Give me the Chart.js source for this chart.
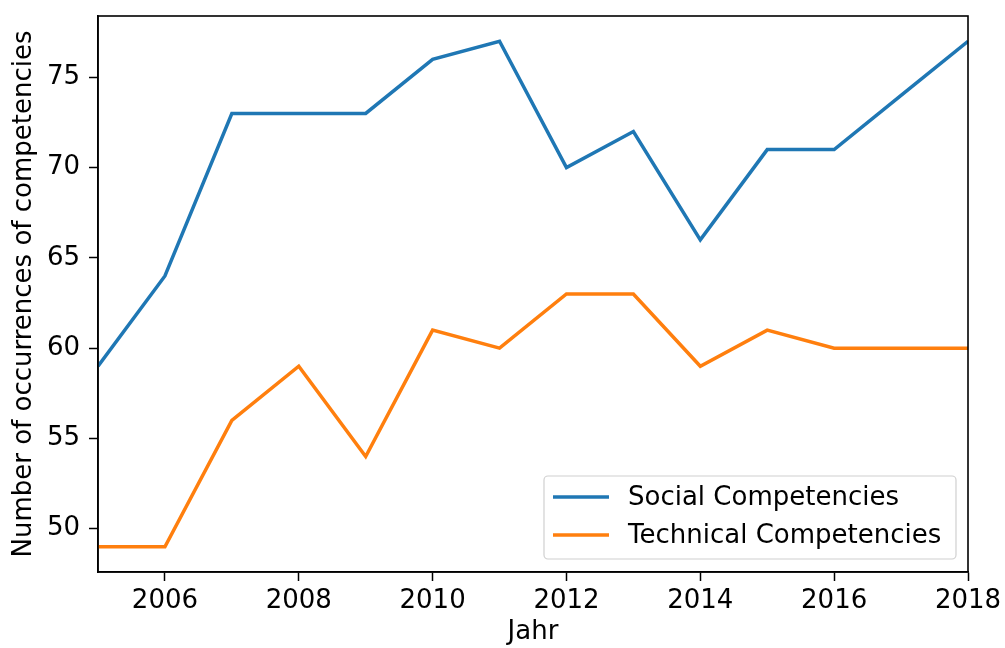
<!DOCTYPE html>
<html>
<head>
<meta charset="utf-8">
<script src="https://cdn.jsdelivr.net/npm/chart.js@4/dist/chart.umd.min.js"></script>
<style>
  html, body { margin: 0; padding: 0; background: #fff; }
  #wrap { width: 1005px; height: 648px; }
</style>
</head>
<body>
<div id="wrap"><canvas id="chart"></canvas></div>
<script>
// Jahre und Werte
const years = [2005, 2006, 2007, 2008, 2009, 2010, 2011, 2012, 2013, 2014, 2015, 2016, 2017, 2018];
const socialValues = [59, 64, 73, 73, 73, 76, 77, 70, 72, 66, 71, 71, 74, 77];
const technicalValues = [49, 49, 56, 59, 54, 61, 60, 63, 63, 59, 61, 60, 60, 60];
const xTicks = [2006, 2008, 2010, 2012, 2014, 2016, 2018];
const yTicks = [50, 55, 60, 65, 70, 75];

const FONT = '"DejaVu Sans", sans-serif';
const FSIZE = 26;

// Rahmen oben/rechts + Legende innerhalb der Zeichenfläche
const framePlugin = {
    id: 'frame',
    afterDraw(chart) {
        const { ctx, chartArea: a } = chart;
        ctx.save();
        ctx.strokeStyle = '#000';
        ctx.lineWidth = 1.6;
        ctx.strokeRect(a.left, a.top, a.right - a.left, a.bottom - a.top);

        // Legende unten rechts
        const boxW = 412, boxH = 83;
        const bx = a.right - 12 - boxW, by = a.bottom - 13 - boxH;
        ctx.fillStyle = 'rgba(255,255,255,0.85)';
        ctx.strokeStyle = '#d0d0d0';
        ctx.lineWidth = 1.2;
        ctx.beginPath();
        ctx.roundRect(bx, by, boxW, boxH, 4);
        ctx.fill();
        ctx.stroke();
        ctx.font = FSIZE + 'px ' + FONT;
        ctx.textBaseline = 'middle';
        chart.data.datasets.forEach((ds, i) => {
            const y = by + 21 + i * 38;
            ctx.strokeStyle = ds.borderColor;
            ctx.lineWidth = 3.5;
            ctx.beginPath();
            ctx.moveTo(bx + 9, y);
            ctx.lineTo(bx + 65, y);
            ctx.stroke();
            ctx.fillStyle = '#000';
            ctx.fillText(ds.label, bx + 84, y + 1);
        });
        ctx.restore();
    }
};

new Chart(document.getElementById('chart'), {
    type: 'line',
    data: {
        datasets: [
            {
                label: 'Social Competencies',
                data: years.map((y, i) => ({ x: y, y: socialValues[i] })),
                borderColor: '#1f77b4',
                borderWidth: 3.5,
                pointRadius: 0,
                tension: 0
            },
            {
                label: 'Technical Competencies',
                data: years.map((y, i) => ({ x: y, y: technicalValues[i] })),
                borderColor: '#ff7f0e',
                borderWidth: 3.5,
                pointRadius: 0,
                tension: 0
            }
        ]
    },
    options: {
        responsive: true,
        maintainAspectRatio: false,
        animation: false,
        layout: { padding: { top: 16, right: 37, left: 0, bottom: 0 } },
        plugins: {
            legend: { display: false },
            tooltip: { enabled: false }
        },
        scales: {
            x: {
                type: 'linear',
                min: 2005,
                max: 2018,
                afterBuildTicks: (axis) => { axis.ticks = xTicks.map(v => ({ value: v })); },
                afterFit: (axis) => {
                    axis.height = 76;
                    axis.paddingLeft = 0;
                    axis.paddingRight = 0;
                },
                ticks: {
                    color: '#000',
                    font: { family: FONT, size: FSIZE },
                    padding: 5,
                    maxRotation: 0,
                    callback: (v) => String(v)
                },
                grid: { drawOnChartArea: false, tickLength: 9, tickColor: '#000', tickWidth: 1.5 },
                border: { color: '#000', width: 1.6 },
                title: {
                    display: true,
                    text: 'Jahr',
                    color: '#000',
                    font: { family: FONT, size: FSIZE },
                    padding: { top: 0, bottom: 0 }
                }
            },
            y: {
                min: 47.6,
                max: 78.4,
                afterBuildTicks: (axis) => { axis.ticks = yTicks.map(v => ({ value: v })); },
                afterFit: (axis) => {
                    axis.width = 98;
                    axis.paddingTop = 0;
                    axis.paddingBottom = 0;
                },
                ticks: {
                    color: '#000',
                    font: { family: FONT, size: FSIZE },
                    padding: 9
                },
                grid: { drawOnChartArea: false, tickLength: 9, tickColor: '#000', tickWidth: 1.5 },
                border: { color: '#000', width: 1.6 },
                title: {
                    display: true,
                    text: 'Number of occurrences of competencies',
                    color: '#000',
                    font: { family: FONT, size: FSIZE },
                    padding: { top: 9, bottom: 0 }
                }
            }
        }
    },
    plugins: [framePlugin]
});
</script>
</body>
</html>
